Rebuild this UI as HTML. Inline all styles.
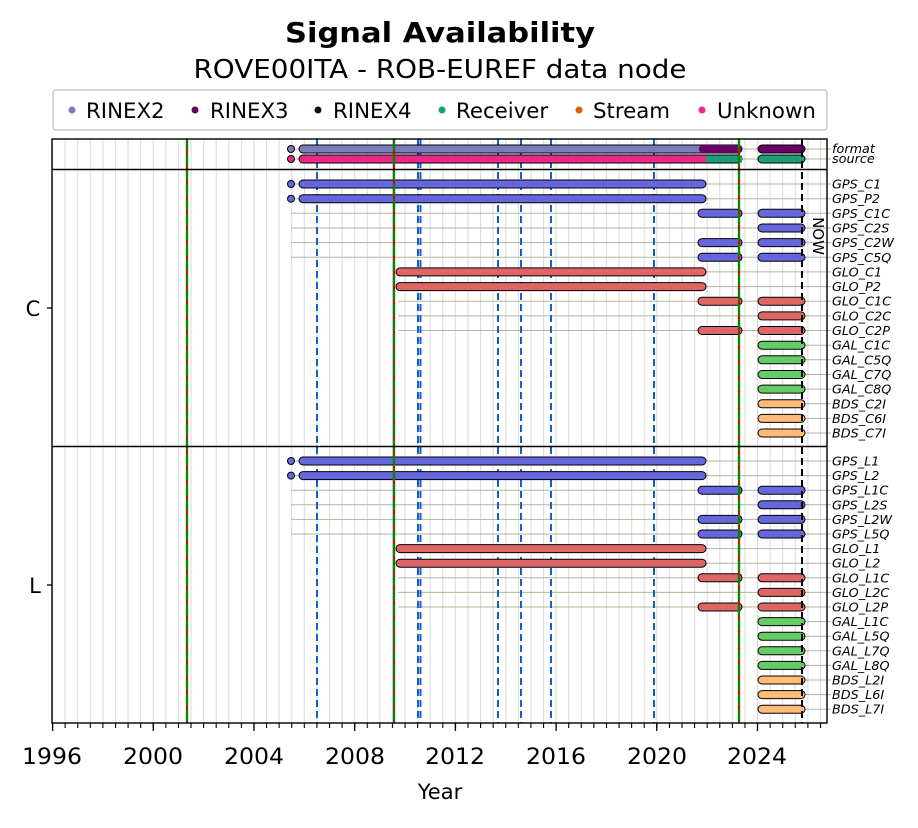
<!DOCTYPE html><html><head><style>body{margin:0;background:#fff}svg{font-family:"DejaVu Sans","Liberation Sans",sans-serif}</style></head><body>
<svg width="918" height="823" xmlns="http://www.w3.org/2000/svg">
<defs>
<pattern id="g" x="52" y="0" width="12.589" height="20" patternUnits="userSpaceOnUse"><line x1="0.5" y1="0" x2="0.5" y2="20" stroke="#dcdcdc" stroke-width="1.2"/></pattern>
<pattern id="t" x="52" y="0" width="12.589" height="20" patternUnits="userSpaceOnUse"><line x1="0.5" y1="0" x2="0.5" y2="20" stroke="#000" stroke-width="1.2"/></pattern>
</defs>
<text x="440" y="42" font-size="28" font-weight="bold" text-anchor="middle" textLength="310" lengthAdjust="spacingAndGlyphs">Signal Availability</text>
<text x="440" y="78" font-size="26" text-anchor="middle" textLength="493" lengthAdjust="spacingAndGlyphs">ROVE00ITA - ROB-EUREF data node</text>
<rect x="53" y="90" width="774" height="40" rx="3" fill="#fff" stroke="#ccc" stroke-width="1.5"/>
<g font-size="21.3">
<circle cx="72" cy="110" r="3.5" fill="#7b7bc0"/><text x="86" y="118">RINEX2</text>
<circle cx="195" cy="110" r="3.5" fill="#660066"/><text x="210" y="118">RINEX3</text>
<circle cx="318" cy="110" r="3.5" fill="#1a0a1a"/><text x="333" y="118">RINEX4</text>
<circle cx="442" cy="110" r="3.5" fill="#1b9e77"/><text x="456" y="118">Receiver</text>
<circle cx="579" cy="110" r="3.5" fill="#d95f02"/><text x="593" y="118">Stream</text>
<circle cx="702" cy="110" r="3.5" fill="#e7298a"/><text x="717" y="118">Unknown</text>
</g>
<rect x="52" y="139" width="775" height="584" fill="url(#g)"/>
<rect x="52" y="723" width="775" height="5" fill="url(#t)"/>
<g stroke="#000" stroke-width="1.3">
<line x1="52.6" y1="723" x2="52.6" y2="731"/><line x1="153.3" y1="723" x2="153.3" y2="731"/><line x1="254" y1="723" x2="254" y2="731"/><line x1="354.7" y1="723" x2="354.7" y2="731"/><line x1="455.4" y1="723" x2="455.4" y2="731"/><line x1="556.1" y1="723" x2="556.1" y2="731"/><line x1="656.8" y1="723" x2="656.8" y2="731"/><line x1="757.5" y1="723" x2="757.5" y2="731"/>
<line x1="47" y1="308" x2="52" y2="308"/><line x1="47" y1="585" x2="52" y2="585"/>
</g>
<g font-size="22" text-anchor="middle">
<text x="52" y="764" textLength="60" lengthAdjust="spacingAndGlyphs">1996</text><text x="153" y="764" textLength="60" lengthAdjust="spacingAndGlyphs">2000</text><text x="254" y="764" textLength="60" lengthAdjust="spacingAndGlyphs">2004</text><text x="355" y="764" textLength="60" lengthAdjust="spacingAndGlyphs">2008</text><text x="455" y="764" textLength="60" lengthAdjust="spacingAndGlyphs">2012</text><text x="556" y="764" textLength="60" lengthAdjust="spacingAndGlyphs">2016</text><text x="657" y="764" textLength="60" lengthAdjust="spacingAndGlyphs">2020</text><text x="757" y="764" textLength="60" lengthAdjust="spacingAndGlyphs">2024</text>
<text x="440" y="799" font-size="21">Year</text>
<text x="33" y="316" font-size="21">C</text><text x="35" y="593" font-size="21">L</text>
</g>
<g stroke="#b0b4a0" stroke-width="1">
<line x1="291" y1="149" x2="831" y2="149"/><line x1="291" y1="159" x2="831" y2="159"/>
<line x1="291" y1="184" x2="831" y2="184"/><line x1="291" y1="198.7" x2="831" y2="198.7"/><line x1="291" y1="213.3" x2="831" y2="213.3"/><line x1="291" y1="228" x2="831" y2="228"/><line x1="291" y1="242.6" x2="831" y2="242.6"/><line x1="291" y1="257.3" x2="831" y2="257.3"/>
<line x1="398" y1="271.9" x2="831" y2="271.9"/><line x1="398" y1="286.6" x2="831" y2="286.6"/><line x1="398" y1="301.2" x2="831" y2="301.2"/><line x1="398" y1="315.9" x2="831" y2="315.9"/><line x1="398" y1="330.5" x2="831" y2="330.5"/>
<line x1="760" y1="345.2" x2="831" y2="345.2"/><line x1="760" y1="359.8" x2="831" y2="359.8"/><line x1="760" y1="374.5" x2="831" y2="374.5"/><line x1="760" y1="389.1" x2="831" y2="389.1"/><line x1="760" y1="403.8" x2="831" y2="403.8"/><line x1="760" y1="418.4" x2="831" y2="418.4"/><line x1="760" y1="433" x2="831" y2="433"/>
<line x1="291" y1="461" x2="831" y2="461"/><line x1="291" y1="475.6" x2="831" y2="475.6"/><line x1="291" y1="490.2" x2="831" y2="490.2"/><line x1="291" y1="504.8" x2="831" y2="504.8"/><line x1="291" y1="519.4" x2="831" y2="519.4"/><line x1="291" y1="534" x2="831" y2="534"/>
<line x1="398" y1="548.6" x2="831" y2="548.6"/><line x1="398" y1="563.2" x2="831" y2="563.2"/><line x1="398" y1="577.8" x2="831" y2="577.8"/><line x1="398" y1="592.4" x2="831" y2="592.4"/><line x1="398" y1="607" x2="831" y2="607"/>
<line x1="760" y1="621.6" x2="831" y2="621.6"/><line x1="760" y1="636.2" x2="831" y2="636.2"/><line x1="760" y1="650.8" x2="831" y2="650.8"/><line x1="760" y1="665.4" x2="831" y2="665.4"/><line x1="760" y1="680" x2="831" y2="680"/><line x1="760" y1="694.6" x2="831" y2="694.6"/><line x1="760" y1="709.2" x2="831" y2="709.2"/>
</g>
<g stroke="#1560c8" stroke-width="2" stroke-dasharray="7,4">
<line x1="317" y1="139" x2="317" y2="723"/><line x1="418" y1="139" x2="418" y2="723"/><line x1="420.5" y1="139" x2="420.5" y2="723"/><line x1="498" y1="139" x2="498" y2="723"/><line x1="521" y1="139" x2="521" y2="723"/><line x1="551" y1="139" x2="551" y2="723"/><line x1="654" y1="139" x2="654" y2="723"/>
</g>
<g stroke="#000" stroke-width="1">
<circle cx="291" cy="149" r="3.5" fill="#7b7bc0"/><circle cx="291" cy="159" r="3.5" fill="#e7298a"/>
<circle cx="291" cy="184" r="3.5" fill="#6666dd"/><circle cx="291" cy="198.7" r="3.5" fill="#6666dd"/>
<circle cx="291" cy="461" r="3.5" fill="#6666dd"/><circle cx="291" cy="475.6" r="3.5" fill="#6666dd"/>
<rect x="299" y="145" width="443" height="8" rx="4" fill="#7b7bc0"/><rect x="699" y="145" width="43" height="8" rx="4" fill="#660066" stroke="none"/><rect x="758" y="145" width="47" height="8" rx="4" fill="#660066"/>
<rect x="299" y="155" width="443" height="8" rx="4" fill="#e7298a"/><rect x="706" y="155.5" width="36" height="7" fill="#1b9e77" stroke="none"/><rect x="758" y="155" width="47" height="8" rx="4" fill="#1b9e77"/>
</g>
<g stroke="#000" stroke-width="1" fill="#6666dd">
<rect x="299" y="180" width="407" height="8" rx="4"/><rect x="299" y="194.7" width="407" height="8" rx="4"/>
<rect x="698" y="209.3" width="44" height="8" rx="4"/><rect x="758" y="209.3" width="47" height="8" rx="4"/>
<rect x="758" y="224" width="47" height="8" rx="4"/>
<rect x="698" y="238.6" width="44" height="8" rx="4"/><rect x="758" y="238.6" width="47" height="8" rx="4"/>
<rect x="698" y="253.3" width="44" height="8" rx="4"/><rect x="758" y="253.3" width="47" height="8" rx="4"/>
<rect x="299" y="457" width="407" height="8" rx="4"/><rect x="299" y="471.6" width="407" height="8" rx="4"/>
<rect x="698" y="486.2" width="44" height="8" rx="4"/><rect x="758" y="486.2" width="47" height="8" rx="4"/>
<rect x="758" y="500.8" width="47" height="8" rx="4"/>
<rect x="698" y="515.4" width="44" height="8" rx="4"/><rect x="758" y="515.4" width="47" height="8" rx="4"/>
<rect x="698" y="530" width="44" height="8" rx="4"/><rect x="758" y="530" width="47" height="8" rx="4"/>
</g>
<g stroke="#000" stroke-width="1" fill="#e06666">
<rect x="396" y="267.9" width="310" height="8" rx="4"/><rect x="396" y="282.6" width="310" height="8" rx="4"/>
<rect x="698" y="297.2" width="44" height="8" rx="4"/><rect x="758" y="297.2" width="47" height="8" rx="4"/>
<rect x="758" y="311.9" width="47" height="8" rx="4"/>
<rect x="698" y="326.5" width="44" height="8" rx="4"/><rect x="758" y="326.5" width="47" height="8" rx="4"/>
<rect x="396" y="544.6" width="310" height="8" rx="4"/><rect x="396" y="559.2" width="310" height="8" rx="4"/>
<rect x="698" y="573.8" width="44" height="8" rx="4"/><rect x="758" y="573.8" width="47" height="8" rx="4"/>
<rect x="758" y="588.4" width="47" height="8" rx="4"/>
<rect x="698" y="603" width="44" height="8" rx="4"/><rect x="758" y="603" width="47" height="8" rx="4"/>
</g>
<g stroke="#000" stroke-width="1" fill="#66cc66">
<rect x="758" y="341.2" width="47" height="8" rx="4"/><rect x="758" y="355.8" width="47" height="8" rx="4"/><rect x="758" y="370.5" width="47" height="8" rx="4"/><rect x="758" y="385.1" width="47" height="8" rx="4"/>
<rect x="758" y="617.6" width="47" height="8" rx="4"/><rect x="758" y="632.2" width="47" height="8" rx="4"/><rect x="758" y="646.8" width="47" height="8" rx="4"/><rect x="758" y="661.4" width="47" height="8" rx="4"/>
</g>
<g stroke="#000" stroke-width="1" fill="#ffbb77">
<rect x="758" y="399.8" width="47" height="8" rx="4"/><rect x="758" y="414.4" width="47" height="8" rx="4"/><rect x="758" y="429" width="47" height="8" rx="4"/>
<rect x="758" y="676" width="47" height="8" rx="4"/><rect x="758" y="690.6" width="47" height="8" rx="4"/><rect x="758" y="705.2" width="47" height="8" rx="4"/>
</g>
<g stroke-width="2.2">
<line x1="187" y1="139" x2="187" y2="723" stroke="#d00"/><line x1="187" y1="139" x2="187" y2="723" stroke="#080" stroke-dasharray="12,3"/>
<line x1="394" y1="139" x2="394" y2="723" stroke="#d00"/><line x1="394" y1="139" x2="394" y2="723" stroke="#080" stroke-dasharray="12,3"/>
<line x1="739" y1="139" x2="739" y2="723" stroke="#d00"/><line x1="739" y1="139" x2="739" y2="723" stroke="#080" stroke-dasharray="12,3"/>
</g>
<line x1="802" y1="139" x2="802" y2="723" stroke="#000" stroke-width="2" stroke-dasharray="7,4"/>
<text transform="translate(813,236) rotate(90)" font-size="15" text-anchor="middle">NOW</text>
<g stroke="#000" stroke-width="1.4" fill="none">
<rect x="52" y="139" width="775" height="584"/><line x1="52" y1="169.5" x2="827" y2="169.5"/><line x1="52" y1="446.5" x2="827" y2="446.5"/>
</g>
<g font-size="12.8" font-style="italic">
<text x="832" y="153">format</text><text x="832" y="163">source</text>
<text x="832" y="188.5">GPS_C1</text><text x="832" y="203.2">GPS_P2</text><text x="832" y="217.8">GPS_C1C</text><text x="832" y="232.5">GPS_C2S</text><text x="832" y="247.1">GPS_C2W</text><text x="832" y="261.8">GPS_C5Q</text>
<text x="832" y="276.4">GLO_C1</text><text x="832" y="291.1">GLO_P2</text><text x="832" y="305.7">GLO_C1C</text><text x="832" y="320.4">GLO_C2C</text><text x="832" y="335">GLO_C2P</text>
<text x="832" y="349.7">GAL_C1C</text><text x="832" y="364.3">GAL_C5Q</text><text x="832" y="379">GAL_C7Q</text><text x="832" y="393.6">GAL_C8Q</text>
<text x="832" y="408.3">BDS_C2I</text><text x="832" y="422.9">BDS_C6I</text><text x="832" y="437.5">BDS_C7I</text>
<text x="832" y="465.5">GPS_L1</text><text x="832" y="480.1">GPS_L2</text><text x="832" y="494.7">GPS_L1C</text><text x="832" y="509.3">GPS_L2S</text><text x="832" y="523.9">GPS_L2W</text><text x="832" y="538.5">GPS_L5Q</text>
<text x="832" y="553.1">GLO_L1</text><text x="832" y="567.7">GLO_L2</text><text x="832" y="582.3">GLO_L1C</text><text x="832" y="596.9">GLO_L2C</text><text x="832" y="611.5">GLO_L2P</text>
<text x="832" y="626.1">GAL_L1C</text><text x="832" y="640.7">GAL_L5Q</text><text x="832" y="655.3">GAL_L7Q</text><text x="832" y="669.9">GAL_L8Q</text>
<text x="832" y="684.5">BDS_L2I</text><text x="832" y="699.1">BDS_L6I</text><text x="832" y="713.7">BDS_L7I</text>
</g>
</svg></body></html>
